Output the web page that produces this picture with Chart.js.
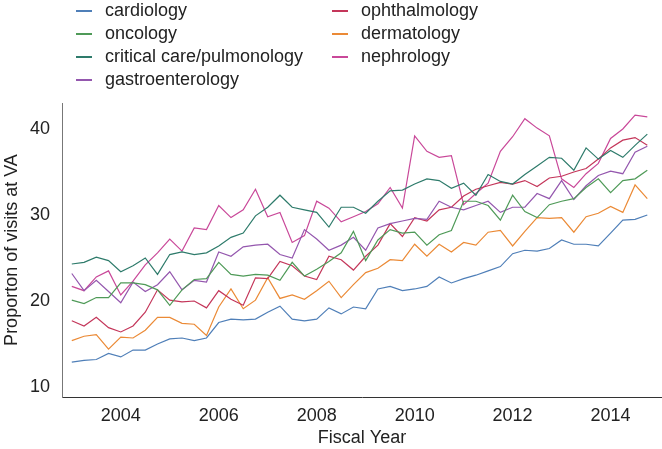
<!DOCTYPE html>
<html><head><meta charset="utf-8">
<script src="https://cdn.jsdelivr.net/npm/chart.js@4"></script>
<style>
html,body{margin:0;padding:0;background:#fff;}
#wrap{position:relative;width:662px;height:449px;overflow:hidden;}
canvas{position:absolute;left:0;top:0;}
.lg{position:absolute;font:18px "Liberation Sans",Arial,sans-serif;color:#222;white-space:nowrap;line-height:20px;height:20px;}
.lg .sw{position:absolute;left:-29px;top:10px;width:16px;height:1.5px;}
</style></head>
<body><div id="wrap"><canvas id="c" width="662" height="449"></canvas><div id="legend"></div></div>
<script>
const quarters = [2003,2003.25,2003.5,2003.75,2004,2004.25,2004.5,2004.75,2005,2005.25,2005.5,2005.75,
  2006,2006.25,2006.5,2006.75,2007,2007.25,2007.5,2007.75,2008,2008.25,2008.5,2008.75,
  2009,2009.25,2009.5,2009.75,2010,2010.25,2010.5,2010.75,2011,2011.25,2011.5,2011.75,
  2012,2012.25,2012.5,2012.75,2013,2013.25,2013.5,2013.75,2014,2014.25,2014.5,2014.75];

const cardiology = [12.9,13.1,13.2,13.9,13.5,14.3,14.3,15.0,15.6,15.7,15.4,15.7,17.5,17.9,17.8,17.9,
  18.7,19.4,17.9,17.7,17.9,19.2,18.5,19.3,19.1,21.4,21.7,21.2,21.4,21.7,22.8,22.1,
  22.6,23.0,23.5,24.0,25.5,25.9,25.8,26.1,27.1,26.6,26.6,26.4,27.9,29.4,29.5,30.0];
const oncology = [20.1,19.7,20.4,20.4,22.1,22.1,21.9,21.3,19.5,21.3,22.5,22.6,24.5,23.1,22.9,23.1,
  23.0,22.4,24.5,22.9,23.7,24.6,25.6,28.1,24.7,27.1,28.3,27.9,28.0,26.5,27.7,28.2,
  31.6,31.6,31.1,29.4,32.3,30.4,29.7,31.2,31.6,31.9,33.2,34.2,32.6,34.0,34.2,35.2];
const criticalCare = [24.3,24.5,25.1,24.7,23.4,24.1,25.0,23.1,25.4,25.7,25.4,25.6,26.4,27.4,27.9,29.9,
  30.9,32.3,30.9,30.6,30.3,28.6,30.9,30.9,30.2,31.6,32.8,32.9,33.6,34.2,34.0,33.1,
  33.7,32.3,34.7,33.9,33.6,34.7,35.7,36.7,36.6,35.2,37.8,36.5,37.5,36.7,38.1,39.4];
const gastroenterology = [23.2,21.2,22.4,21.1,19.8,22.2,21.1,21.9,23.4,21.3,22.4,22.2,25.7,25.2,26.3,26.5,
  26.6,25.4,25.0,28.3,27.2,25.9,26.5,27.4,25.9,28.5,29.0,29.3,29.6,29.5,31.6,30.9,
  30.6,31.1,31.6,30.3,30.9,30.9,32.5,31.9,34.0,31.8,33.4,34.6,35.1,34.8,37.3,38.0];
const ophthalmology = [17.7,17.1,18.1,16.9,16.4,17.1,18.7,21.3,20.1,19.9,20.0,19.2,21.2,20.2,19.5,22.7,
  22.6,24.6,24.1,22.9,22.5,25.2,24.8,23.6,25.2,26.5,29.0,27.5,29.7,29.3,30.6,30.9,
  32.2,33.0,33.4,33.8,33.6,34.0,33.3,34.3,34.5,35.0,35.4,36.5,37.8,38.7,39.0,38.1];
const dermatology = [15.4,15.9,16.1,14.4,15.8,15.7,16.6,18.1,18.1,17.4,17.3,16.0,19.3,21.4,19.1,20.1,
  22.7,20.3,20.7,20.2,21.2,22.3,20.4,21.9,23.3,23.8,24.8,24.7,26.6,25.2,26.6,25.7,
  26.8,26.5,28.0,28.2,26.4,28.1,29.7,29.6,29.7,28.0,29.8,30.2,31.0,30.3,33.5,31.9];
const nephrology = [21.7,21.2,22.8,23.5,20.7,22.3,24.2,25.6,27.2,25.8,28.5,28.3,31.1,29.7,30.6,33.0,
  29.8,30.3,26.8,27.6,31.6,30.8,29.2,29.8,30.4,31.3,33.2,30.8,39.2,37.4,36.7,36.9,
  31.2,32.5,33.7,37.4,39.1,41.2,40.1,39.2,34.2,33.2,34.8,36.0,38.9,40.0,41.6,41.4];

const xTicks = [2004,2006,2008,2010,2012,2014];
const yTicks = [10,20,30,40];

const series = [
  {name:'cardiology', values:cardiology, color:'#4f7fb8', col:0, row:0},
  {name:'oncology', values:oncology, color:'#4f9a58', col:0, row:1},
  {name:'critical care/pulmonology', values:criticalCare, color:'#2e7b6b', col:0, row:2},
  {name:'gastroenterology', values:gastroenterology, color:'#9457ae', col:0, row:3},
  {name:'ophthalmology', values:ophthalmology, color:'#c4365a', col:1, row:0},
  {name:'dermatology', values:dermatology, color:'#eb8a36', col:1, row:1},
  {name:'nephrology', values:nephrology, color:'#c94899', col:1, row:2}
];

const legendEl = document.getElementById('legend');
const colX = [105, 361];
const rowY = [0, 23, 46, 69];
series.forEach(s => {
  const d = document.createElement('div');
  d.className = 'lg';
  d.style.left = colX[s.col] + 'px';
  d.style.top = rowY[s.row] + 'px';
  const sw = document.createElement('span');
  sw.className = 'sw';
  sw.style.background = s.color;
  d.appendChild(sw);
  d.appendChild(document.createTextNode(s.name));
  legendEl.appendChild(d);
});

const FONT = '"Liberation Sans", Arial, sans-serif';
new Chart(document.getElementById('c'), {
  type: 'line',
  data: {
    datasets: series.map(s => ({
      label: s.name,
      data: quarters.map((q, i) => ({x: q, y: s.values[i]})),
      borderColor: s.color,
      borderWidth: 1.2,
      pointRadius: 0,
      tension: 0,
      fill: false
    }))
  },
  options: {
    responsive: false,
    animation: false,
    devicePixelRatio: 1,
    layout: {padding: {top: 103, right: 0, left: 0, bottom: 0}},
    plugins: {legend: {display: false}, tooltip: {enabled: false}},
    scales: {
      x: {
        type: 'linear', min: 2002.8, max: 2015.05,
        afterBuildTicks: s => { s.ticks = xTicks.map(v => ({value: v})); },
        afterFit: s => { s.height = 52; },
        grid: {display: false, drawTicks: false},
        border: {display: true, color: '#333', width: 1},
        ticks: {padding: 8, color: '#222', font: {size: 18, family: FONT}, maxRotation: 0, autoSkip: false, callback: v => String(v)},
        title: {display: true, text: 'Fiscal Year', color: '#222', font: {size: 18, family: FONT}, padding: {top: 0, bottom: 0}}
      },
      y: {
        type: 'linear', min: 8.84, max: 43.02,
        afterBuildTicks: s => { s.ticks = yTicks.map(v => ({value: v})); },
        afterFit: s => { s.width = 62; },
        grid: {display: false, drawTicks: false},
        border: {display: true, color: '#777', width: 1},
        ticks: {padding: 12, color: '#222', font: {size: 18, family: FONT}, autoSkip: false, callback: v => String(v)},
        title: {display: true, text: 'Proporton of visits at VA', color: '#222', font: {size: 18, family: FONT}, padding: {top: 1, bottom: 0}}
      }
    }
  }
});
</script>
</body></html>
